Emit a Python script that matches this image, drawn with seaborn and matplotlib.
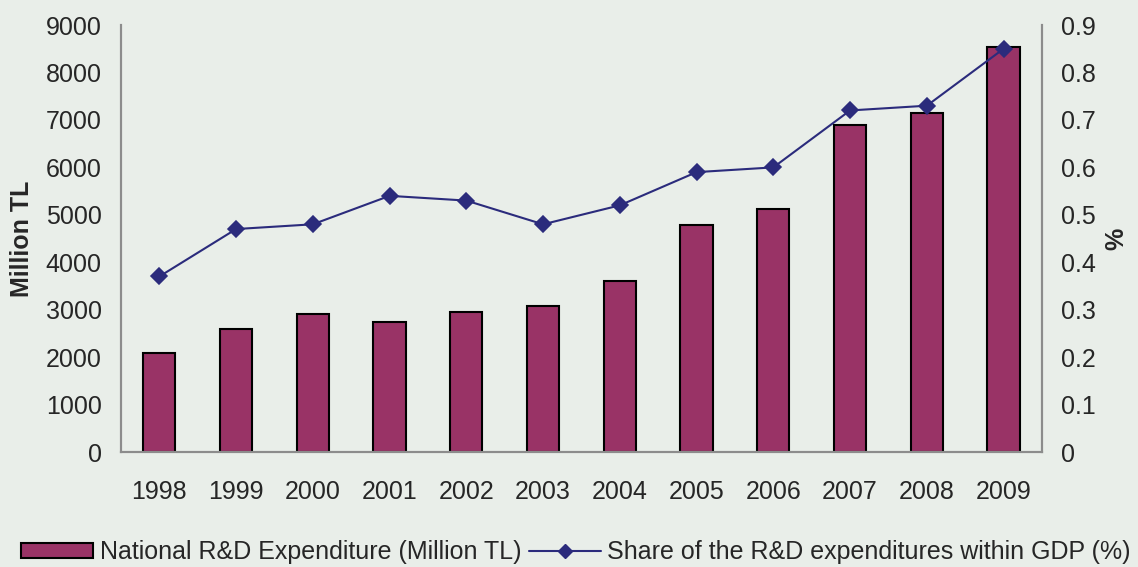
import pandas as pd
import matplotlib.pyplot as plt
import seaborn as sns
from matplotlib.patches import Patch
from matplotlib.lines import Line2D

# data
years = ["1998", "1999", "2000", "2001", "2002", "2003",
         "2004", "2005", "2006", "2007", "2008", "2009"]
expenditure = [2080, 2590, 2900, 2740, 2950, 3080,
               3610, 4790, 5130, 6900, 7150, 8540]
gdp_share = [0.37, 0.47, 0.48, 0.54, 0.53, 0.48,
             0.52, 0.59, 0.60, 0.72, 0.73, 0.85]

BG = "#E9EEE9"
BAR = "#993366"
LINE = "#2B2B7C"
SPINE = "#8C8C8C"
FS = 18

df = pd.DataFrame({"year": years, "exp": expenditure, "share": gdp_share})

sns.set_style("white")
plt.rcParams["font.family"] = ["Liberation Sans", "DejaVu Sans"]

fig = plt.figure(figsize=(11.38, 5.67), dpi=100, facecolor=BG)
ax = fig.add_axes([0.1063, 0.2028, 0.8093, 0.7530])
ax.set_facecolor(BG)

sns.barplot(data=df, x="year", y="exp", color=BAR, width=0.42,
            edgecolor="black", linewidth=1.5, saturation=1, ax=ax)
ax.set_ylim(0, 9000)
ax.set_yticks(range(0, 9001, 1000))
ax.set_xlim(-0.5, len(years) - 0.5)
ax.set_xlabel("")
ax.set_ylabel("Million TL", fontsize=FS, fontweight="bold", labelpad=8)
ax.tick_params(axis="both", length=0, labelsize=FS, pad=14)
ax.tick_params(axis="x", pad=20)

ax2 = ax.twinx()
sns.pointplot(data=df, x="year", y="share", color=LINE, markers="D",
              markersize=8, linewidth=1.5, ax=ax2)
ax2.set_ylim(0, 0.9)
ax2.set_yticks([i / 10 for i in range(10)])
ax2.set_yticklabels(["0"] + [f"{i / 10:.1f}" for i in range(1, 10)])
ax2.set_xlim(-0.5, len(years) - 0.5)
ax2.set_ylabel("%", fontsize=FS, fontweight="bold", labelpad=6)
ax2.tick_params(axis="y", length=0, labelsize=FS, pad=14)

for a in (ax, ax2):
    a.spines["top"].set_visible(False)
    for side in ("left", "right", "bottom"):
        a.spines[side].set_color(SPINE)
        a.spines[side].set_linewidth(1.5)

handles = [
    Patch(facecolor=BAR, edgecolor="black", linewidth=1.5),
    Line2D([0], [0], color=LINE, marker="D", markersize=7, linewidth=1.5),
]
labels = ["National R&D Expenditure (Million TL)",
          "Share of the R&D expenditures within GDP (%)"]
fig.legend(handles, labels, loc="lower center", bbox_to_anchor=(0.506, -0.035),
           ncol=2, frameon=False, fontsize=FS, handlelength=2.9,
           handleheight=0.6, handletextpad=0.25, columnspacing=0.3)

fig.savefig("out.png", dpi=100, facecolor=BG)
